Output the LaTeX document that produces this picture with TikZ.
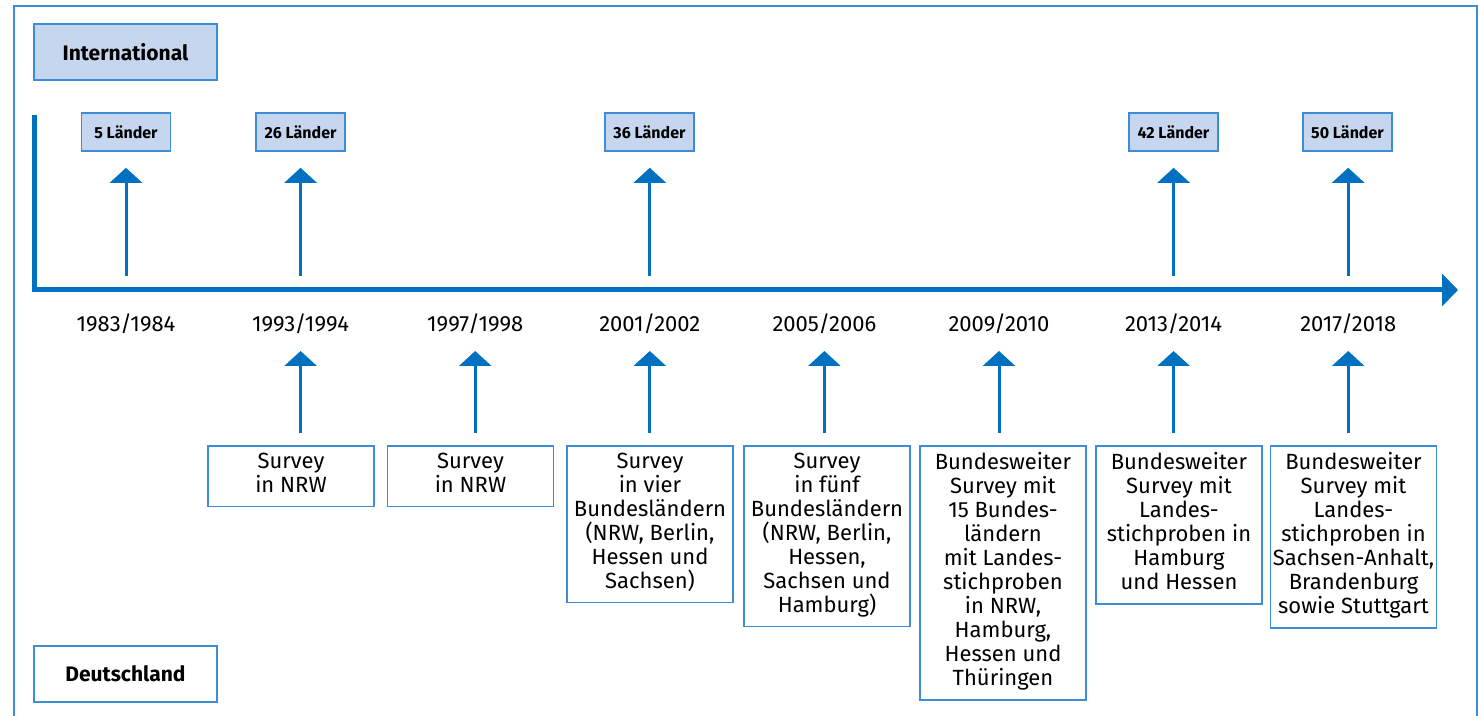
\documentclass[tikz,border=0pt]{standalone}
\usepackage{fontspec}
\setmainfont{Fira Sans}
\usetikzlibrary{arrows.meta,positioning}
\definecolor{lineblue}{HTML}{0070C0}
\definecolor{frameblue}{HTML}{3C8DD5}
\definecolor{paleblue}{HTML}{C6D6EF}
\tikzset{
  every node/.style={font=\fontsize{11}{12}\selectfont},
  headbox/.style={draw=frameblue,line width=0.8pt,minimum width=91.5pt,
    minimum height=28pt,inner sep=0pt,font=\fontsize{10.5}{12}\selectfont\bfseries},
  landbox/.style={draw=frameblue,fill=paleblue,line width=0.8pt,minimum width=44.5pt,
    minimum height=19pt,inner sep=0pt,font=\fontsize{8}{10}\selectfont\bfseries},
  survbox/.style={draw=frameblue,line width=0.8pt,anchor=north,
    minimum width=83pt,align=center,inner xsep=0pt,inner ysep=3.5pt,
    execute at begin node=\strut,execute at end node=\strut},
  uparrow/.style={lineblue,line width=1.5pt,-{Triangle[length=7.5pt,width=16pt]}},
  timeaxis/.style={lineblue,line width=2.5pt,-{Triangle[length=8pt,width=16pt]}}
}

\begin{document}
\begin{tikzpicture}[x=0.5pt,y=-0.5pt]
  % --- Window and frame ---
  \useasboundingbox (0,0) rectangle (1479,716);
  \clip (0,0) rectangle (1479,716);
  \draw[frameblue,line width=0.9pt] (14,6) rectangle (1477,740);

  % --- Headings ---
  \node[headbox,fill=paleblue] (intl) at (125.5,52) {International};
  \node[headbox] (de) at (125.5,674) {Deutschland};

  % --- Time axis ---
  \draw[timeaxis] (34,115) -- (34,290) -- (1458,290);

  % --- Years (one column every 174.6px) ---
  \foreach \a/\b [count=\i] in {1983/1984,1993/1994,1997/1998,2001/2002,
      2005/2006,2009/2010,2013/2014,2017/2018}{
    \node[anchor=base,inner sep=0pt] (yr\i) at ({126+174.6*(\i-1)},332) {\a/\b};
    \coordinate (ax\i) at ({126+174.6*(\i-1)},276);
  }

  % --- International: number of countries ---
  \node[landbox] (l1) at (126,132) {5 Länder};
  \node[landbox] (l2) at (300.5,132) {26 Länder};
  \node[landbox] (l4) at (649.5,132) {36 Länder};
  \node[landbox] (l7) at (1173.5,132) {42 Länder};
  \node[landbox] (l8) at (1347.5,132) {50 Länder};
  \foreach \i in {1,2,4,7,8}
    \draw[uparrow,shorten >=8pt] (ax\i) -- (l\i.south -| ax\i);

  % --- Deutschland: surveys ---
  \node[survbox] (s2) at (291,445) {Survey\\in NRW};
  \node[survbox] (s3) at (470.5,445) {Survey\\in NRW};
  \node[survbox] (s4) at (650,445) {Survey\\in vier\\Bundesländern\\(NRW, Berlin,\\Hessen und\\Sachsen)};
  \node[survbox] (s5) at (827,445) {Survey\\in fünf\\Bundesländern\\(NRW, Berlin,\\Hessen,\\Sachsen und\\Hamburg)};
  \node[survbox] (s6) at (1003,445) {Bundesweiter\\Survey mit\\15 Bundes-\\ländern\\mit Landes-\\stichproben\\in NRW,\\Hamburg,\\Hessen und\\Thüringen};
  \node[survbox] (s7) at (1179,445) {Bundesweiter\\Survey mit\\Landes-\\stichproben in\\Hamburg\\und Hessen};
  \node[survbox] (s8) at (1353.5,445) {Bundesweiter\\Survey mit\\Landes-\\stichproben in\\Sachsen-Anhalt,\\Brandenburg\\sowie Stuttgart};
  \foreach \i in {2,...,8}
    \draw[uparrow,shorten <=6pt,shorten >=9.5pt] (s\i.north -| yr\i) -- (yr\i.base);

\end{tikzpicture}
\end{document}
